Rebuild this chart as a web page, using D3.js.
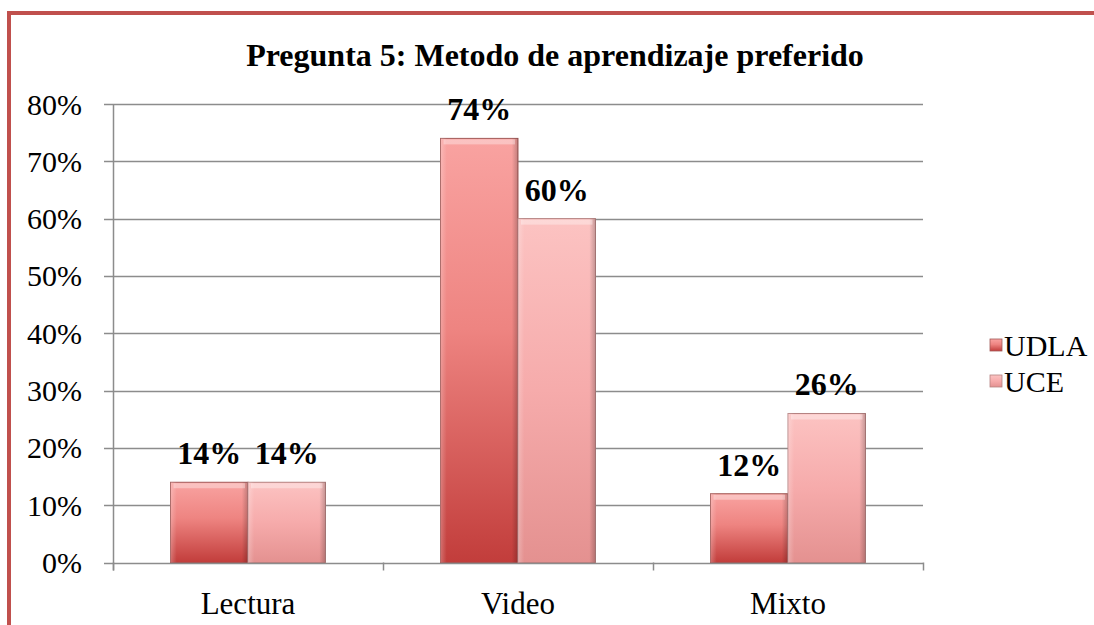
<!DOCTYPE html>
<html>
<head>
<meta charset="utf-8">
<script src="https://cdn.jsdelivr.net/npm/d3@7"></script>
<style>
  html, body { margin: 0; padding: 0; background: #fff; }
  svg { display: block; }
  text { font-family: "Liberation Serif", "Times New Roman", serif; fill: #000; }
</style>
</head>
<body>
<div id="container"></div>
<script>
const title = "Pregunta 5: Metodo de aprendizaje preferido";
const categories = ["Lectura", "Video", "Mixto"];
const seriesNames = ["UDLA", "UCE"];
const udla = [0.14, 0.74, 0.12];
const uce = [0.14, 0.60, 0.26];
const yTicks = [0, 0.1, 0.2, 0.3, 0.4, 0.5, 0.6, 0.7, 0.8];

const width = 1094, height = 625;
const margin = { left: 113, right: 1094 - 923, top: 104, bottom: 625 - 562.5 };

const svg = d3.select("#container").append("svg")
    .attr("width", width)
    .attr("height", height);

const defs = svg.append("defs");

// bar gradients (vertical), one per series
const grads = [
    { id: "g0", stops: [["0%", "#f9a3a1"], ["45%", "#ee8481"], ["100%", "#c23d3b"]] },
    { id: "g1", stops: [["0%", "#fcc3c2"], ["50%", "#f6abab"], ["100%", "#e49190"]] }
];
grads.forEach(g => {
    const lg = defs.append("linearGradient").attr("id", g.id)
        .attr("x1", 0).attr("y1", 0).attr("x2", 0).attr("y2", 1);
    g.stops.forEach(s => lg.append("stop").attr("offset", s[0]).attr("stop-color", s[1]));
});
// side shading for bevel look
const side = defs.append("linearGradient").attr("id", "side")
    .attr("x1", 0).attr("y1", 0).attr("x2", 1).attr("y2", 0);
side.append("stop").attr("offset", "0%").attr("stop-color", "#fff").attr("stop-opacity", 0.25);
side.append("stop").attr("offset", "8%").attr("stop-color", "#fff").attr("stop-opacity", 0);
side.append("stop").attr("offset", "92%").attr("stop-color", "#000").attr("stop-opacity", 0);
side.append("stop").attr("offset", "100%").attr("stop-color", "#000").attr("stop-opacity", 0.22);

// red frame
svg.append("rect")
    .attr("x", 9).attr("y", 13)
    .attr("width", width + 20).attr("height", height + 20)
    .attr("fill", "none")
    .attr("stroke", "#c0504d")
    .attr("stroke-width", 4);

const x0 = d3.scaleBand()
    .domain(categories)
    .range([margin.left, width - margin.right])
    .paddingInner(0.426)
    .paddingOuter(0.213);

const x1 = d3.scaleBand()
    .domain(seriesNames)
    .range([0, x0.bandwidth()]);

const y = d3.scaleLinear()
    .domain([0, 0.8])
    .range([height - margin.bottom, margin.top]);

// gridlines
svg.append("g")
    .selectAll("line")
    .data(yTicks)
    .join("line")
    .attr("x1", margin.left - 9)
    .attr("x2", width - margin.right)
    .attr("y1", d => Math.round(y(d)) + 0.5)
    .attr("y2", d => Math.round(y(d)) + 0.5)
    .attr("stroke", "#8c8c8c")
    .attr("stroke-width", 1.5);

// y axis line
svg.append("line")
    .attr("x1", margin.left + 0.5).attr("x2", margin.left + 0.5)
    .attr("y1", y(0.8)).attr("y2", y(0) + 8)
    .attr("stroke", "#8c8c8c").attr("stroke-width", 1.5);

// x category boundary ticks
const bounds = [margin.left].concat(categories.map(c => x0(c) + x0.bandwidth() + x0.step() * x0.paddingInner() / 2));
svg.append("g")
    .selectAll("line")
    .data(bounds)
    .join("line")
    .attr("x1", d => Math.round(d) + 0.5)
    .attr("x2", d => Math.round(d) + 0.5)
    .attr("y1", y(0))
    .attr("y2", y(0) + 8)
    .attr("stroke", "#8c8c8c").attr("stroke-width", 1.5);

// y tick labels
svg.append("g")
    .selectAll("text")
    .data(yTicks)
    .join("text")
    .attr("x", 82)
    .attr("y", d => y(d))
    .attr("dy", "0.35em")
    .attr("text-anchor", "end")
    .attr("font-size", 30)
    .text(d => d3.format(".0%")(d));

// category labels
svg.append("g")
    .selectAll("text")
    .data(categories)
    .join("text")
    .attr("x", d => x0(d) + x0.bandwidth() / 2)
    .attr("y", 614)
    .attr("text-anchor", "middle")
    .attr("font-size", 31)
    .text(d => d);

// bars
const rows = categories.map((c, i) => ({ cat: c, vals: [udla[i], uce[i]] }));
const groups = svg.append("g")
    .selectAll("g")
    .data(rows)
    .join("g")
    .attr("transform", d => `translate(${x0(d.cat)},0)`);

const bars = groups.selectAll("g")
    .data(d => d.vals.map((v, j) => ({ key: seriesNames[j], v, j })))
    .join("g");

bars.append("rect")
    .attr("x", d => x1(d.key))
    .attr("y", d => y(d.v))
    .attr("width", x1.bandwidth())
    .attr("height", d => y(0) - y(d.v))
    .attr("fill", d => `url(#g${d.j})`)
    .attr("stroke", d => d.j === 0 ? "#a25a58" : "#b58281")
    .attr("stroke-width", 1);

bars.append("rect")
    .attr("x", d => x1(d.key))
    .attr("y", d => y(d.v))
    .attr("width", x1.bandwidth())
    .attr("height", d => y(0) - y(d.v))
    .attr("fill", "url(#side)");

// top highlight strip
bars.append("rect")
    .attr("x", d => x1(d.key) + 3)
    .attr("y", d => y(d.v) + 1)
    .attr("width", x1.bandwidth() - 6)
    .attr("height", 5)
    .attr("fill", "#fff")
    .attr("opacity", 0.35);

// value labels
bars.append("text")
    .attr("x", d => x1(d.key) + x1.bandwidth() / 2)
    .attr("y", d => y(d.v) - 18)
    .attr("text-anchor", "middle")
    .attr("font-size", 32)
    .attr("font-weight", "bold")
    .text(d => d3.format(".0%")(d.v));

// title
svg.append("text")
    .attr("x", 555)
    .attr("y", 66)
    .attr("text-anchor", "middle")
    .attr("font-size", 32)
    .attr("font-weight", "bold")
    .text(title);

// legend
const legend = svg.append("g")
    .selectAll("g")
    .data(seriesNames)
    .join("g")
    .attr("transform", (d, i) => `translate(990,${345 + i * 36})`);

legend.append("rect")
    .attr("x", 0).attr("y", -6)
    .attr("width", 12).attr("height", 12)
    .attr("fill", (d, i) => `url(#g${i})`)
    .attr("stroke", (d, i) => i === 0 ? "#a25a58" : "#b58281")
    .attr("stroke-width", 0.8);

legend.append("text")
    .attr("x", 14)
    .attr("y", 0)
    .attr("dy", "0.35em")
    .attr("font-size", 30)
    .text(d => d);
</script>
</body>
</html>
